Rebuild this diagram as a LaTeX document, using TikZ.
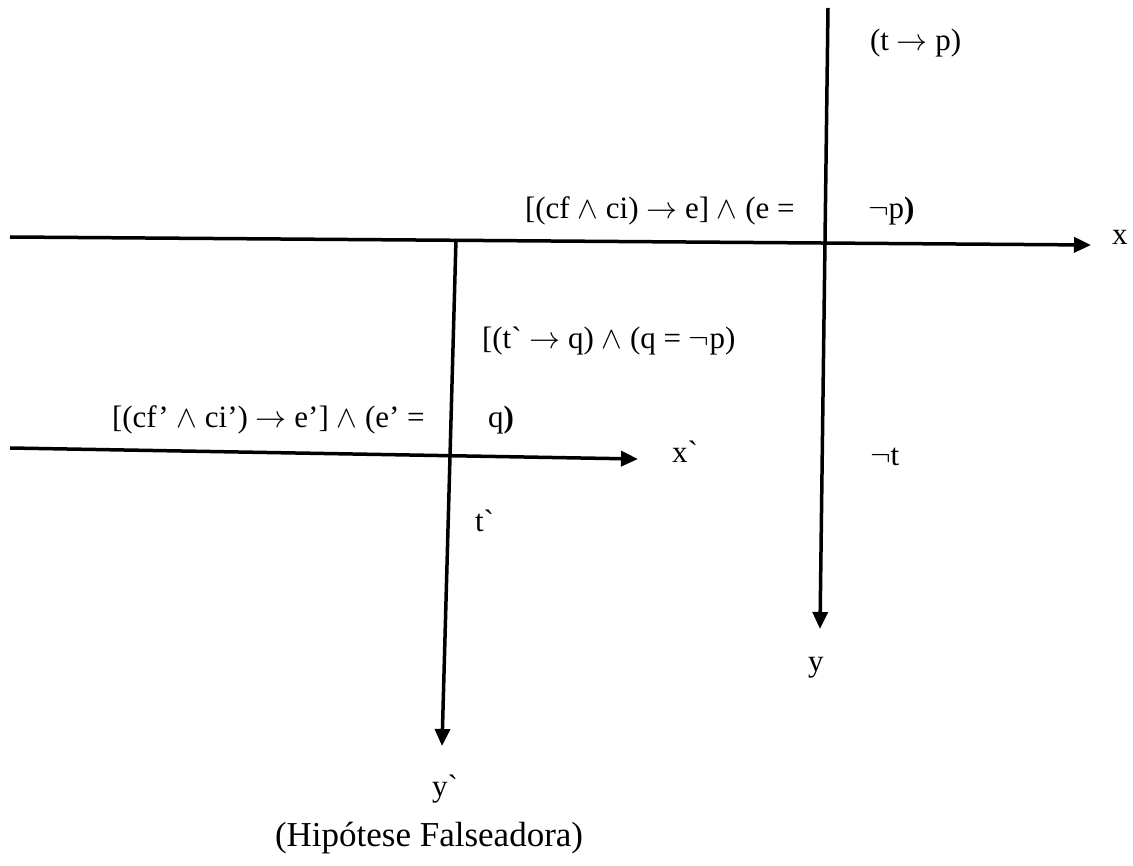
\documentclass[tikz,border=0pt]{standalone}
\usepackage{graphicx}
\usepackage{fontspec}
\setmainfont{Liberation Serif}[Ligatures=TeXOff]
\usetikzlibrary{arrows.meta}
\newcommand\bq{\symbol{96}}
\newcommand\msym[1]{\scalebox{3.1}{\fontsize{10}{12}\selectfont$#1$}}
\newcommand\arr{\msym{\rightarrow}}
\newcommand\wed{\msym{\wedge}}
\newcommand\nega{\msym{\neg}}
\tikzset{
  axis/.style={line width=3.5pt, -{Triangle[length=17pt,width=15pt]}},
  lbl/.style={anchor=base west, inner sep=0pt, outer sep=0pt,
    font=\fontsize{31}{37}\selectfont},
  captionlbl/.style={lbl, font=\fontsize{35}{42}\selectfont}
}
\begin{document}
\begin{tikzpicture}[x=1pt,y=-1pt]
\useasboundingbox (0,0) rectangle (1133,866);
% axis end points
\coordinate (xs) at (10,237);
\coordinate (xe) at (1091,245);
\coordinate (ys) at (828,8);
\coordinate (ye) at (820,629);
\coordinate (x2s) at (10,448);
\coordinate (x2e) at (638,459);
\coordinate (y2s) at (456,239);
\coordinate (y2e) at (442,746);
\draw[axis] (xs) -- (xe);
\draw[axis] (ys) -- (ye);
\draw[axis] (x2s) -- (x2e);
\draw[axis] (y2s) -- (y2e);
% labels
\node[lbl] (tp) at (870,51) {(t \arr{} p)};
\node[lbl] (h1) at (525,219) {[(cf \wed{} ci) \arr{} e] \wed{} (e =};
\node[lbl] (np) at (868,219) {\nega{}p\textbf{)}};
\node[lbl] (h2) at (482,349) {[(t\bq{} \arr{} q) \wed{} (q = \nega{}p)};
\node[lbl] (h3) at (112,428) {[(cf’ \wed{} ci’) \arr{} e’] \wed{} (e’ =};
\node[lbl] (q) at (488,428) {q\textbf{)}};
\node[lbl] (x2) at (672,463) {x\bq};
\node[lbl] (nt) at (870,466) {\nega{}t};
\node[lbl] (t2) at (475,531) {t\bq};
\node[lbl] (y) at (808,671) {y};
\node[lbl] (y2) at (432,796) {y\bq};
\node[lbl] (x) at (1112,245) {x};
\node[captionlbl] (hf) at (275,846) {(Hipótese Falseadora)};
\end{tikzpicture}
\end{document}
